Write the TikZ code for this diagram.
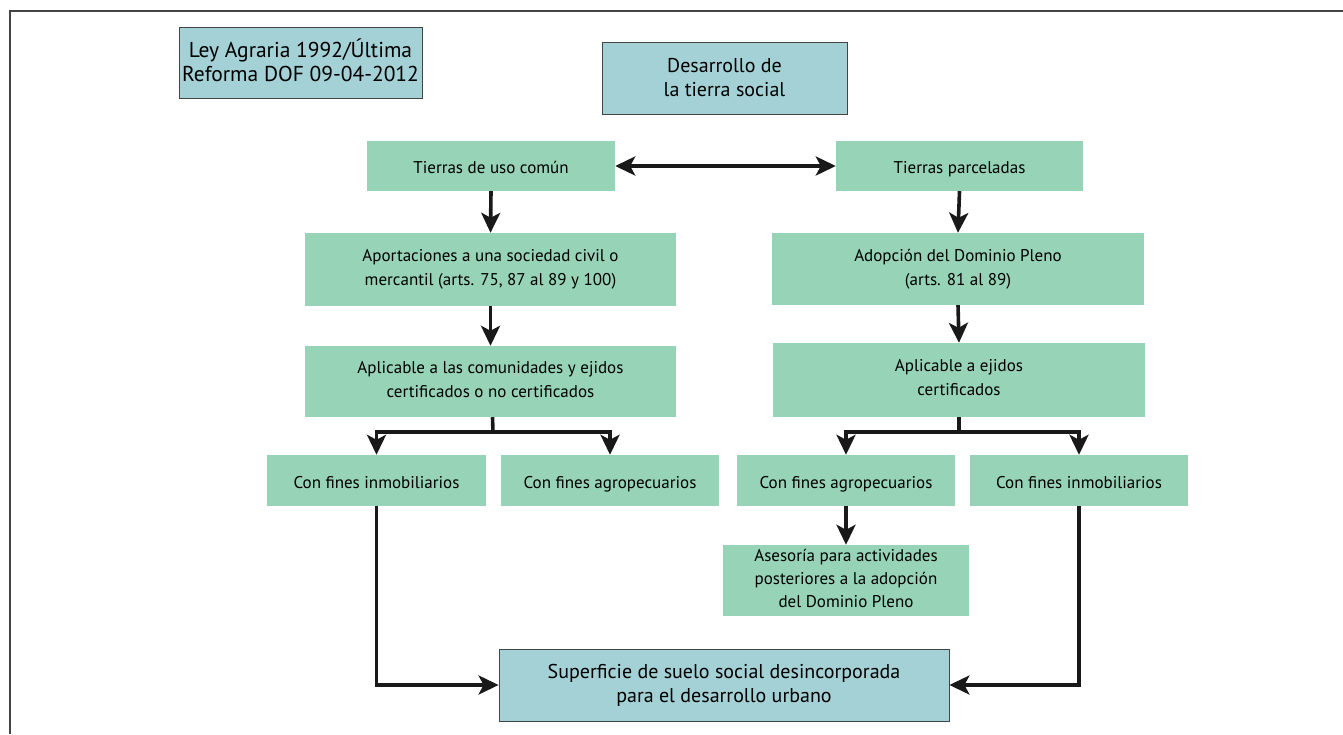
\documentclass[tikz,border=0pt]{standalone}
\usepackage{fontspec}
\setmainfont{PT Sans}
\usetikzlibrary{arrows.meta}
\definecolor{boxgreen}{HTML}{97D3B7}
\definecolor{boxblue}{HTML}{A3D1D6}
\definecolor{framegray}{HTML}{444444}
\newcommand\upstrut[1]{\rule[-#1]{0pt}{24pt}}
\begin{document}
\begin{tikzpicture}[x=1pt,y=-1pt,
  lift/.style={execute at begin node=\upstrut{#1}, execute at end node=\upstrut{#1}},
  gbox/.style={fill=boxgreen, draw=none, align=center, font=\fontsize{17}{24}\selectfont, inner sep=0pt, lift=4.2pt},
  bbox/.style={fill=boxblue, draw=framegray, line width=0.8pt, align=center, inner sep=0pt},
  conn/.style={line width=3.6pt, draw=black!90},
  arr/.style={conn, -{Stealth[length=20pt,width=19pt,inset=5pt]}},
  darr/.style={conn, {Stealth[length=20pt,width=19pt,inset=5pt]}-{Stealth[length=20pt,width=19pt,inset=5pt]}}
]
\useasboundingbox (0,0) rectangle (1343,734);
% frame
\draw[framegray, line width=1.2pt] (10,734) -- (10,11) -- (1343,11);
% boxes
\node[bbox, lift=4.2pt, font=\fontsize{21.5}{24}\selectfont, minimum width=243pt, minimum height=71pt] (ley) at (300.5,62.5) {Ley Agraria 1992/Última\\Reforma DOF 09-04-2012};
\node[bbox, lift=0.8pt, font=\fontsize{20}{24}\selectfont, minimum width=245pt, minimum height=72pt] (des) at (724.5,78) {Desarrollo de\\la tierra social};
\node[gbox, minimum width=248pt, minimum height=50pt] (tuc) at (491,166) {Tierras de uso común};
\node[gbox, minimum width=247pt, minimum height=50pt] (tp) at (959.5,166) {Tierras parceladas};
\node[gbox, minimum width=371pt, minimum height=73pt] (apo) at (490.5,269.5) {Aportaciones a una sociedad civil o\\mercantil (arts. 75, 87 al 89 y 100)};
\node[gbox, minimum width=371pt, minimum height=71pt] (apl) at (490.5,381.5) {Aplicable a las comunidades y ejidos\\certificados o no certificados};
\node[gbox, minimum width=372pt, minimum height=72pt] (ado) at (958,269) {Adopción del Dominio Pleno\\(arts. 81 al 89)};
\node[gbox, minimum width=372pt, minimum height=74pt] (apr) at (959,380) {Aplicable a ejidos\\certificados};
\node[gbox, minimum width=219pt, minimum height=51pt] (inl) at (376.5,480.5) {Con fines inmobiliarios};
\node[gbox, minimum width=218pt, minimum height=51pt] (agl) at (610,480.5) {Con fines agropecuarios};
\node[gbox, minimum width=218pt, minimum height=51pt] (agr) at (846,480.5) {Con fines agropecuarios};
\node[gbox, minimum width=218pt, minimum height=51pt] (inr) at (1079,480.5) {Con fines inmobiliarios};
\node[gbox, font=\fontsize{17}{23}\selectfont, minimum width=246pt, minimum height=71pt] (ase) at (846,580.5) {Asesoría para actividades\\posteriores a la adopción\\del Dominio Pleno};
\node[bbox, lift=0.8pt, font=\fontsize{20}{24}\selectfont, minimum width=450pt, minimum height=72pt] (sup) at (724,685) {Superficie de suelo social desincorporada\\para el desarrollo urbano};
% connectors
\draw[darr] (tuc.east) -- (tp.west);
\draw[arr] (tuc.south) -- (apo.north);
\draw[arr] (apo.south) -- (apl.north);
\draw[arr] (tp.south) -- (ado.north);
\draw[arr] (ado.south) -- (apr.north);
\coordinate (jl) at (493,432);
\coordinate (jr) at (959,432);
\draw[conn] ([xshift=2pt]apl.south) -- (jl);
\draw[arr] (jl) -| (inl.north);
\draw[arr] (jl) -| (agl.north);
\draw[conn] (apr.south) -- (jr);
\draw[arr] (jr) -| (agr.north);
\draw[arr] (jr) -| (inr.north);
\draw[arr] (agr.south) -- (ase.north);
\draw[arr] (inl.south) |- (sup.west);
\draw[arr] (inr.south) |- (sup.east);
\end{tikzpicture}
\end{document}
